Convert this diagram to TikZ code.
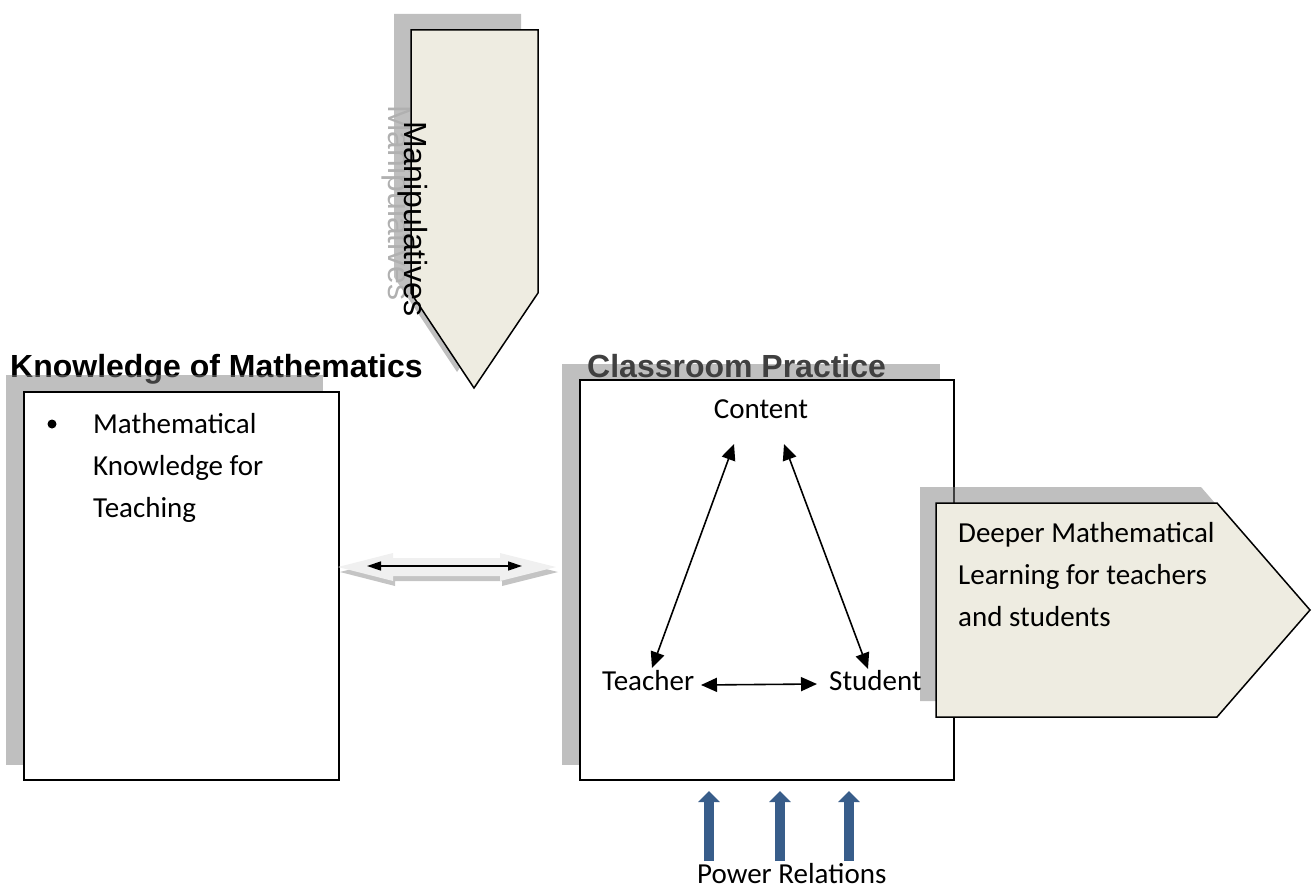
\documentclass[tikz,border=0pt]{standalone}
\usepackage{fontspec}
\setmainfont{Carlito}
\newfontfamily\arialfont{Liberation Sans}
\usetikzlibrary{arrows.meta,calc}
\definecolor{beige}{HTML}{EEECE1}
\definecolor{shade}{HTML}{808080}
\definecolor{blockblue}{HTML}{385D8A}
\definecolor{ghost}{HTML}{B0B0B0}
\definecolor{lightarrow}{HTML}{F0F0F0}
\definecolor{lightshadow}{HTML}{C4C4C4}
\definecolor{headgray}{HTML}{404040}
\begin{document}
\begin{tikzpicture}[x=1pt,y=-1pt,
  box/.style={draw=black, line width=2pt, fill=white},
  shadowfill/.style={fill=shade, fill opacity=0.5},
  body/.style={font=\fontsize{29}{42}\selectfont, inner sep=0pt},
  heading/.style={font=\arialfont\bfseries\fontsize{32}{38}\selectfont, inner sep=0pt},
  vtext/.style={font=\arialfont\fontsize{32}{38}\selectfont, inner sep=0pt, rotate=-90},
  link/.style={line width=1.6pt, {Triangle[length=16pt,width=14pt]}-{Triangle[length=16pt,width=14pt]}},
  thinlink/.style={line width=1.5pt, {Triangle[length=14pt,width=9pt]}-{Triangle[length=14pt,width=9pt]}},
  power/.style={draw=blockblue, line width=10pt, -{Triangle[length=11pt,width=21pt]}},
  pent/.style={draw=black, line width=1.5pt, fill=beige}
]
\useasboundingbox (0,0) rectangle (1314,888);

% ---------- Manipulatives arrow ----------
\fill[shadowfill] (394,14) -- (521,14) -- (521,277) -- (457,372) -- (394,277) -- cycle;
\node[vtext, text=ghost] (manipghost) at (397,203) {Manipulatives};
\draw[pent] (411,30) -- (538,30) -- (538,293) -- (474,388) -- (411,293) -- cycle;
\node[vtext] (manip) at (413,219) {Manipulatives};

% ---------- Knowledge of Mathematics ----------
\node[heading, anchor=base west] (kmhead) at (10,377) {Knowledge of Mathematics};
\fill[shadowfill] (6,375) rectangle (323,765);
\draw[box] (24,392) rectangle (339,780);
\node[circle, fill=black, inner sep=0pt, minimum size=9pt] (bullet) at (52,424) {};
% base anchor of a multi-line node is its last line: last baseline = 433 + 2*42
\node[body, anchor=base west, align=left] (mkt) at (93,517) {Mathematical\\Knowledge for\\Teaching};

% ---------- double arrow between ----------
\fill[lightshadow] (340,572) -- (395,558) -- (395,563) -- (502,563) -- (502,558) -- (558,572) -- (502,586) -- (502,581) -- (395,581) -- (395,586) -- cycle;
\fill[lightarrow] (338,567) -- (393,553) -- (393,558) -- (500,558) -- (500,553) -- (556,567) -- (500,581) -- (500,576) -- (393,576) -- (393,581) -- cycle;
\coordinate (dl) at (367,566);
\coordinate (dr) at (522,566);
\draw[thinlink] (dl) -- (dr);

% ---------- Classroom Practice ----------
\fill[shadowfill] (562,364) rectangle (940,765);
\node[heading, anchor=base west, text=headgray] (cphead) at (587,377) {Classroom Practice};
\draw[box] (580,380) rectangle (954,780);
\node[body, anchor=base] (content) at (761,418) {Content};
\node[body, anchor=base west] (teacher) at (602,690) {Teacher};
\node[body, anchor=base west] (student) at (829,690) {Student};
\coordinate (cT) at (734,444);
\coordinate (tC) at (652,668);
\coordinate (cS) at (784,444);
\coordinate (sC) at (868,669);
\coordinate (tS) at (701,685);
\coordinate (sT) at (817,684);
\draw[link] (cT) -- (tC);
\draw[link] (cS) -- (sC);
\draw[link] (tS) -- (sT);

% ---------- Deeper Mathematical Learning ----------
\fill[shadowfill] (920,487) -- (1201,487) -- (1294,594) -- (1201,701) -- (920,701) -- cycle;
\draw[pent] (936,503) -- (1217,503) -- (1310,610) -- (1217,717) -- (936,717) -- cycle;
\node[body, anchor=base west, align=left] (deeper) at (958,626) {Deeper Mathematical\\Learning for teachers\\and students};

% ---------- Power Relations ----------
\node[body, anchor=base west] (power) at (697,883) {Power Relations};
\foreach \x/\n in {709/a,780/b,849/c}{
  \coordinate (pb\n) at (\x,861);
  \coordinate (pt\n) at (\x,791);
  \draw[power] (pb\n) -- (pt\n);
}
\end{tikzpicture}
\end{document}
